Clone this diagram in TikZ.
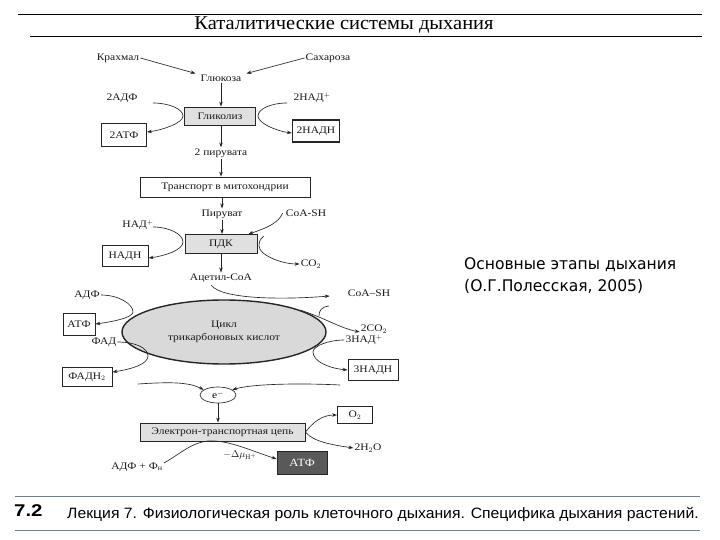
\documentclass[tikz,border=0pt]{standalone}
\usepackage{fontspec}
\setmainfont{Liberation Serif}
\newfontfamily\diagf[FakeStretch=1.15]{Liberation Serif}
\newfontfamily\titlef[FakeStretch=1.05]{Liberation Serif}
\newfontfamily\sidef[FakeStretch=0.97]{DejaVu Sans}
\newfontfamily\footf[FakeStretch=1.05]{Liberation Sans}
\newfontfamily\numf[FakeStretch=1.2]{Liberation Sans}
\usetikzlibrary{arrows.meta,shapes.geometric}
\definecolor{fline}{RGB}{115,125,140}
\begin{document}
\begin{tikzpicture}[x=1pt,y=-1pt,
  lbl/.style={font=\diagf\fontsize{10}{11}\selectfont, inner sep=1pt, text=black!90},
  wbox/.style={draw=black!85, line width=0.8pt, fill=white, font=\diagf\fontsize{10}{11}\selectfont, inner sep=0pt, text=black!90},
  gbox/.style={wbox, fill=black!12},
  arr/.style={draw=black!85, line width=0.65pt, -{Stealth[length=5pt,width=3.5pt]}},
  ln/.style={draw=black!85, line width=0.65pt}]
\useasboundingbox (0,0) rectangle (720,540);
\fill[white] (0,0) rectangle (720,540);
% header
\draw[line width=1pt] (18,15) -- (702,15);
\draw[line width=1pt] (30,37) -- (702,37);
\node[font=\titlef\fontsize{19.5}{21}\selectfont, inner sep=0pt] (title) at (344,25.5) {Каталитические системы дыхания};
% footer
\draw[fline, line width=0.9pt] (15,496) -- (700,496);
\draw[fline, line width=0.9pt] (15,530) -- (700,530);
\node[font=\numf\bfseries\fontsize{17}{18}\selectfont, anchor=west, inner sep=0pt] (num) at (14,511) {7.2};
\node[font=\footf\fontsize{15}{16}\selectfont, anchor=west, inner sep=0pt] (lec) at (67,514) {Лекция 7. Физиологическая роль клеточного дыхания. Специфика дыхания растений.};
% side text
\node[font=\sidef\fontsize{16}{22}\selectfont, align=left, anchor=north west, inner sep=0pt] (side) at (464,257) {Основные этапы дыхания\\(О.Г.Полесская, 2005)};

% glycolysis
\node[lbl] (krah) at (118,58) {Крахмал};
\node[lbl] (sah) at (328,58) {Сахароза};
\node[lbl] (glc) at (221,78) {Глюкоза};
\draw[arr] (krah.east) -- ([xshift=-4pt]glc.north west);
\draw[arr] (sah.west) -- ([xshift=4pt]glc.north east);
\node[gbox, minimum width=71pt, minimum height=18pt] (glyc) at (220,116) {Гликолиз};
\draw[arr] (glc.south) -- (glc.south |- glyc.north);
\node[lbl] (adf2) at (122,98) {2АДФ};
\node[wbox, minimum width=45pt, minimum height=23pt] (atf2) at (124,135) {2АТФ};
\node[lbl] (nad2) at (312,98) {2НАД$^+$};
\node[wbox, line width=1.2pt, minimum width=47pt, minimum height=22pt] (nadh2) at (316,131) {2НАДН};
\coordinate (g1) at (153,103);
\coordinate (g1t) at (183,116);
\draw[arr] (g1) .. controls +(16,0) and +(0,-7) .. (g1t) .. controls +(0,7) and +(16,-2) .. ([yshift=3pt]atf2.east);
\coordinate (g2) at (287,103);
\coordinate (g2t) at (258,116);
\draw[arr] (g2) .. controls +(-16,0) and +(0,-7) .. (g2t) .. controls +(0,7) and +(-16,-2) .. ([yshift=-2pt]nadh2.west);
\node[lbl] (pyr2) at (221,153) {2 пирувата};
\draw[arr] (glyc.south -| pyr2.north) -- (pyr2.north);
\node[wbox, minimum width=170pt, minimum height=20pt] (trans) at (225,187) {Транспорт в митохондрии};
\draw[arr] (pyr2.south) -- (pyr2.south |- trans.north);

% PDK
\node[lbl] (piruv) at (222,214) {Пируват};
\draw[arr] (trans.south -| piruv.north) -- (piruv.north);
\node[gbox, minimum width=72pt, minimum height=19pt] (pdk) at (221,244) {ПДК};
\draw[arr] (piruv.south) -- (piruv.south |- pdk.north);
\node[lbl] (coa1) at (306,213) {CoA-SH};
\draw[arr] ([xshift=-2pt]coa1.west) .. controls +(-4,10) and +(18,-6) .. ([xshift=-9pt]pdk.north east);
\node[lbl] (nad1) at (138,225) {НАД$^+$};
\node[wbox, line width=1pt, minimum width=46pt, minimum height=21pt] (nadh1) at (125,256) {НАДН};
\coordinate (p1) at (153,227);
\coordinate (p1t) at (183,242);
\draw[arr] (p1) .. controls +(16,0) and +(0,-8) .. (p1t) .. controls +(0,8) and +(16,-2) .. ([yshift=-2pt]nadh1.east);
\node[lbl] (co2) at (311,264) {CO$_2$};
\coordinate (p2) at (264,236);
\coordinate (p2t) at (259,246);
\draw[arr] (p2) .. controls +(-4,3) and +(0,-4) .. (p2t) .. controls +(0,9) and +(-18,0) .. (co2.west);
\node[lbl] (acet) at (221,278) {Ацетил-CoA};
\draw[arr] (pdk.south -| acet.north) -- (acet.north);

% Krebs cycle
\node[draw=black!85, line width=1.4pt, fill=black!15, ellipse, minimum width=204pt, minimum height=64pt, inner sep=0pt, align=center, font=\diagf\fontsize{10}{13}\selectfont, text=black!90] (krebs) at (224,332) {Цикл\\трикарбоновых кислот};
\node[lbl] (coa2) at (369,293) {CoA–SH};
\coordinate (k1) at (211,285);
\draw[arr] (k1) .. controls +(10,14) and +(-50,4) .. ([xshift=-17pt,yshift=-3pt]coa2.west);
\node[lbl] (co2b) at (374,329) {2CO$_2$};
\coordinate (k2a) at (329,306);
\coordinate (k2b) at (319,316);
\draw[ln] (k2a) .. controls +(-8,1) and +(0,-5) .. (k2b);
\draw[arr] (krebs.16) .. controls +(25,8) and +(-20,-4) .. ([yshift=-3pt]co2b.west);
\node[lbl] (nad3) at (364,340) {3НАД$^+$};
\node[wbox, minimum width=50pt, minimum height=21pt] (nadh3) at (373,370) {3НАДН};
\coordinate (k4t) at (313,352);
\draw[arr] (nad3.west) .. controls +(-16,0) and +(0,-6) .. (k4t) .. controls +(0,9) and +(-20,-2) .. (nadh3.west);
\node[lbl] (adf1) at (87,295) {АДФ};
\node[wbox, minimum width=32pt, minimum height=22pt] (atf1) at (79,324) {АТФ};
\coordinate (k5t) at (133,312);
\draw[arr] (adf1.east) .. controls +(18,0) and +(0,-8) .. (k5t) .. controls +(0,6) and +(15,-2) .. (atf1.east);
\node[lbl] (fad) at (104,342) {ФАД};
\node[wbox, minimum width=50pt, minimum height=19pt] (fadh) at (87,377) {ФАДН$_2$};
\coordinate (k6t) at (148,356);
\draw[arr] (fad.east) .. controls +(18,0) and +(0,-8) .. (k6t) .. controls +(0,8) and +(20,-3) .. ([yshift=5pt]fadh.east);

% electrons
\node[draw=black!85, line width=0.65pt, ellipse, minimum width=36pt, minimum height=16pt, inner sep=0pt, font=\diagf\fontsize{10}{11}\selectfont] (e) at (218,395) {e$^-$};
\coordinate (ea) at (138,384);
\draw[arr] (ea) .. controls +(30,-2) and +(-15,-8) .. (e.160);
\coordinate (eb) at (340,385);
\draw[arr] (eb) .. controls +(-40,-2) and +(20,-6) .. (e.20);
\node[gbox, minimum width=165pt, minimum height=18pt] (etc) at (222.5,432) {Электрон-транспортная цепь};
\draw[arr] (e.south) -- (e.south |- etc.north);
\node[wbox, minimum width=35pt, minimum height=17pt] (o2) at (355,415) {O$_2$};
\node[lbl] (h2o) at (368,448) {2H$_2$O};
\draw[arr] (etc.east) .. controls +(8,-10) and +(-15,0) .. (o2.west);
\draw[arr] (etc.east) .. controls +(8,10) and +(-20,-3) .. (h2o.west);
\node[lbl] (adfF) at (137,467) {АДФ + Ф\textsubscript{н}};
\node[lbl] (dmu) at (240,455) {$-\Delta\mu_{\mathrm{H}^+}$};
\node[draw=black!85, line width=0.8pt, fill=black!65, minimum width=50pt, minimum height=23pt, inner sep=0pt, font=\diagf\fontsize{11}{12}\selectfont, text=white] (atfD) at (302,463) {АТФ};
\coordinate (ett) at (208,441);
\draw[arr] ([yshift=4pt]adfF.east) .. controls +(15,-8) and +(-18,2) .. (ett) .. controls +(20,-1) and +(-30,-10) .. ([yshift=4pt]atfD.west);
\end{tikzpicture}
\end{document}
